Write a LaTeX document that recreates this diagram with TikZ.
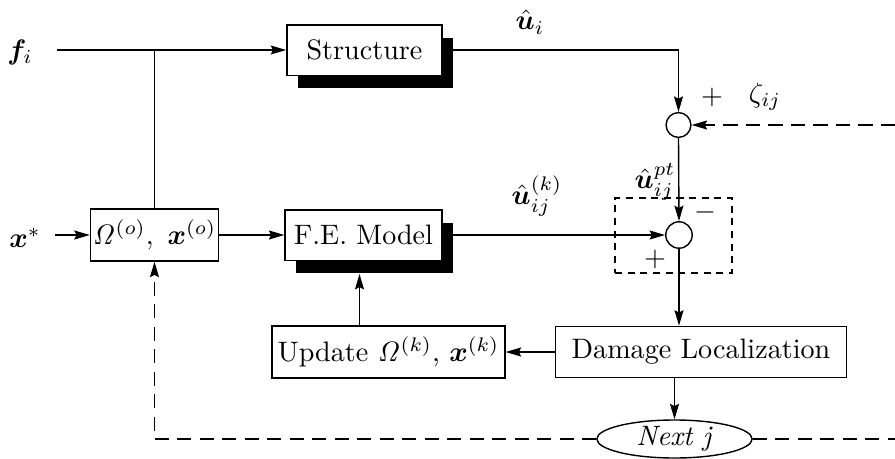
\documentclass[tikz,border=0pt]{standalone}
\usepackage{amsmath,amssymb,bm}
\usetikzlibrary{calc,arrows.meta,shapes.geometric,shadows}

\tikzset{
  blk/.style={draw, fill=white, inner sep=0pt, minimum height=0.63cm},
  shd/.style={drop shadow={shadow xshift=0.14cm, shadow yshift=-0.16cm, fill=black, opacity=1}},
  sumpt/.style={draw, circle, fill=white, inner sep=0pt, minimum size=0.31cm},
  fb/.style={dash pattern=on 5pt off 3pt},
  dbox/.style={draw, dash pattern=on 2.5pt off 2pt, inner sep=0pt},
}

\begin{document}
\begin{tikzpicture}[x=0.0125cm,y=-0.0125cm,line width=0.5pt,
    >={Stealth[length=5.5pt,width=3.2pt,inset=0.8pt]}]
  \useasboundingbox (0,0) rectangle (895,458);
  % blocks (coords in pixels of the original figure)
  \node[blk,shd,minimum width=1.94cm] (st) at (364.5,50) {Structure};
  \node[blk,shd,minimum width=1.96cm] (fe) at (363.5,235) {F.E. Model};
  \node[blk,minimum width=1.6cm,minimum height=0.65cm] (om) at (154.5,235)
    {$\mathit{\Omega}^{(o)},\ \bm{x}^{(o)}$};
  \node[blk,minimum width=2.91cm,minimum height=0.65cm] (upd) at (388.5,352)
    {Update $\mathit{\Omega}^{(k)}$,\ $\bm{x}^{(k)}$};
  \node[blk,minimum width=3.63cm,minimum height=0.64cm] (dmg) at (701,352)
    {Damage Localization};
  \node[draw,ellipse,inner sep=0pt,minimum width=1.94cm,minimum height=0.475cm] (next)
    at (674.5,439) {\textit{Next j}};
  % summing points
  \node[dbox,minimum width=1.46cm,minimum height=0.94cm] (sbox) at (673.5,235.5) {};
  \node[sumpt] (s1) at (678.5,125) {};
  \node[sumpt,minimum size=0.33cm] (s2) at (679,235) {};
  % free ends
  \coordinate (fin) at (57,50);
  \coordinate (xin) at (55,235);
  \coordinate (zin) at (895,125);
  \coordinate (fbr) at (895,439);
  \coordinate (feb) at ($(fe.south)+(-4,13)$);
  % signals
  \draw[->] (fin) -- (st.west);
  \draw (om.north) -- (om.north |- fin);
  \draw[->] (xin) -- (om.west);
  \draw[->] (om.east) -- (fe.west);
  \draw[->] (st.east) -| (s1.north);
  \draw[fb,->] (zin) -- (s1.east);
  \draw[->] (s1.south) -- (s2.north);
  \draw[->] (fe.east) -- (s2.west);
  \draw[->] (s2.south) -- (s2.south |- dmg.north);
  \draw[->] (dmg.west) -- (upd.east);
  \draw[->] (feb |- upd.north) -- (feb);
  \draw[->] (next.north |- dmg.south) -- (next.north);
  % feedback
  \draw[fb,->] (next.west) -| (om.south);
  \draw[fb] (next.east) -- (fbr);
  % labels
  \node (lf) at (20,52) {$\bm{f}_i$};
  \node (lx) at (25,238) {$\bm{x}^{*}$};
  \node (lui) at (530,22) {$\hat{\bm{u}}_i$};
  \node (lp1) at (712,97) {$+$};
  \node (lz) at (765,97) {$\zeta_{ij}$};
  \node (lupt) at (655,182) {$\hat{\bm{u}}_{ij}^{pt}$};
  \node (luk) at (537,196) {$\hat{\bm{u}}_{ij}^{(k)}$};
  \node (lm) at (705,212) {$-$};
  \node (lp2) at (655,259) {$+$};
\end{tikzpicture}
\end{document}
